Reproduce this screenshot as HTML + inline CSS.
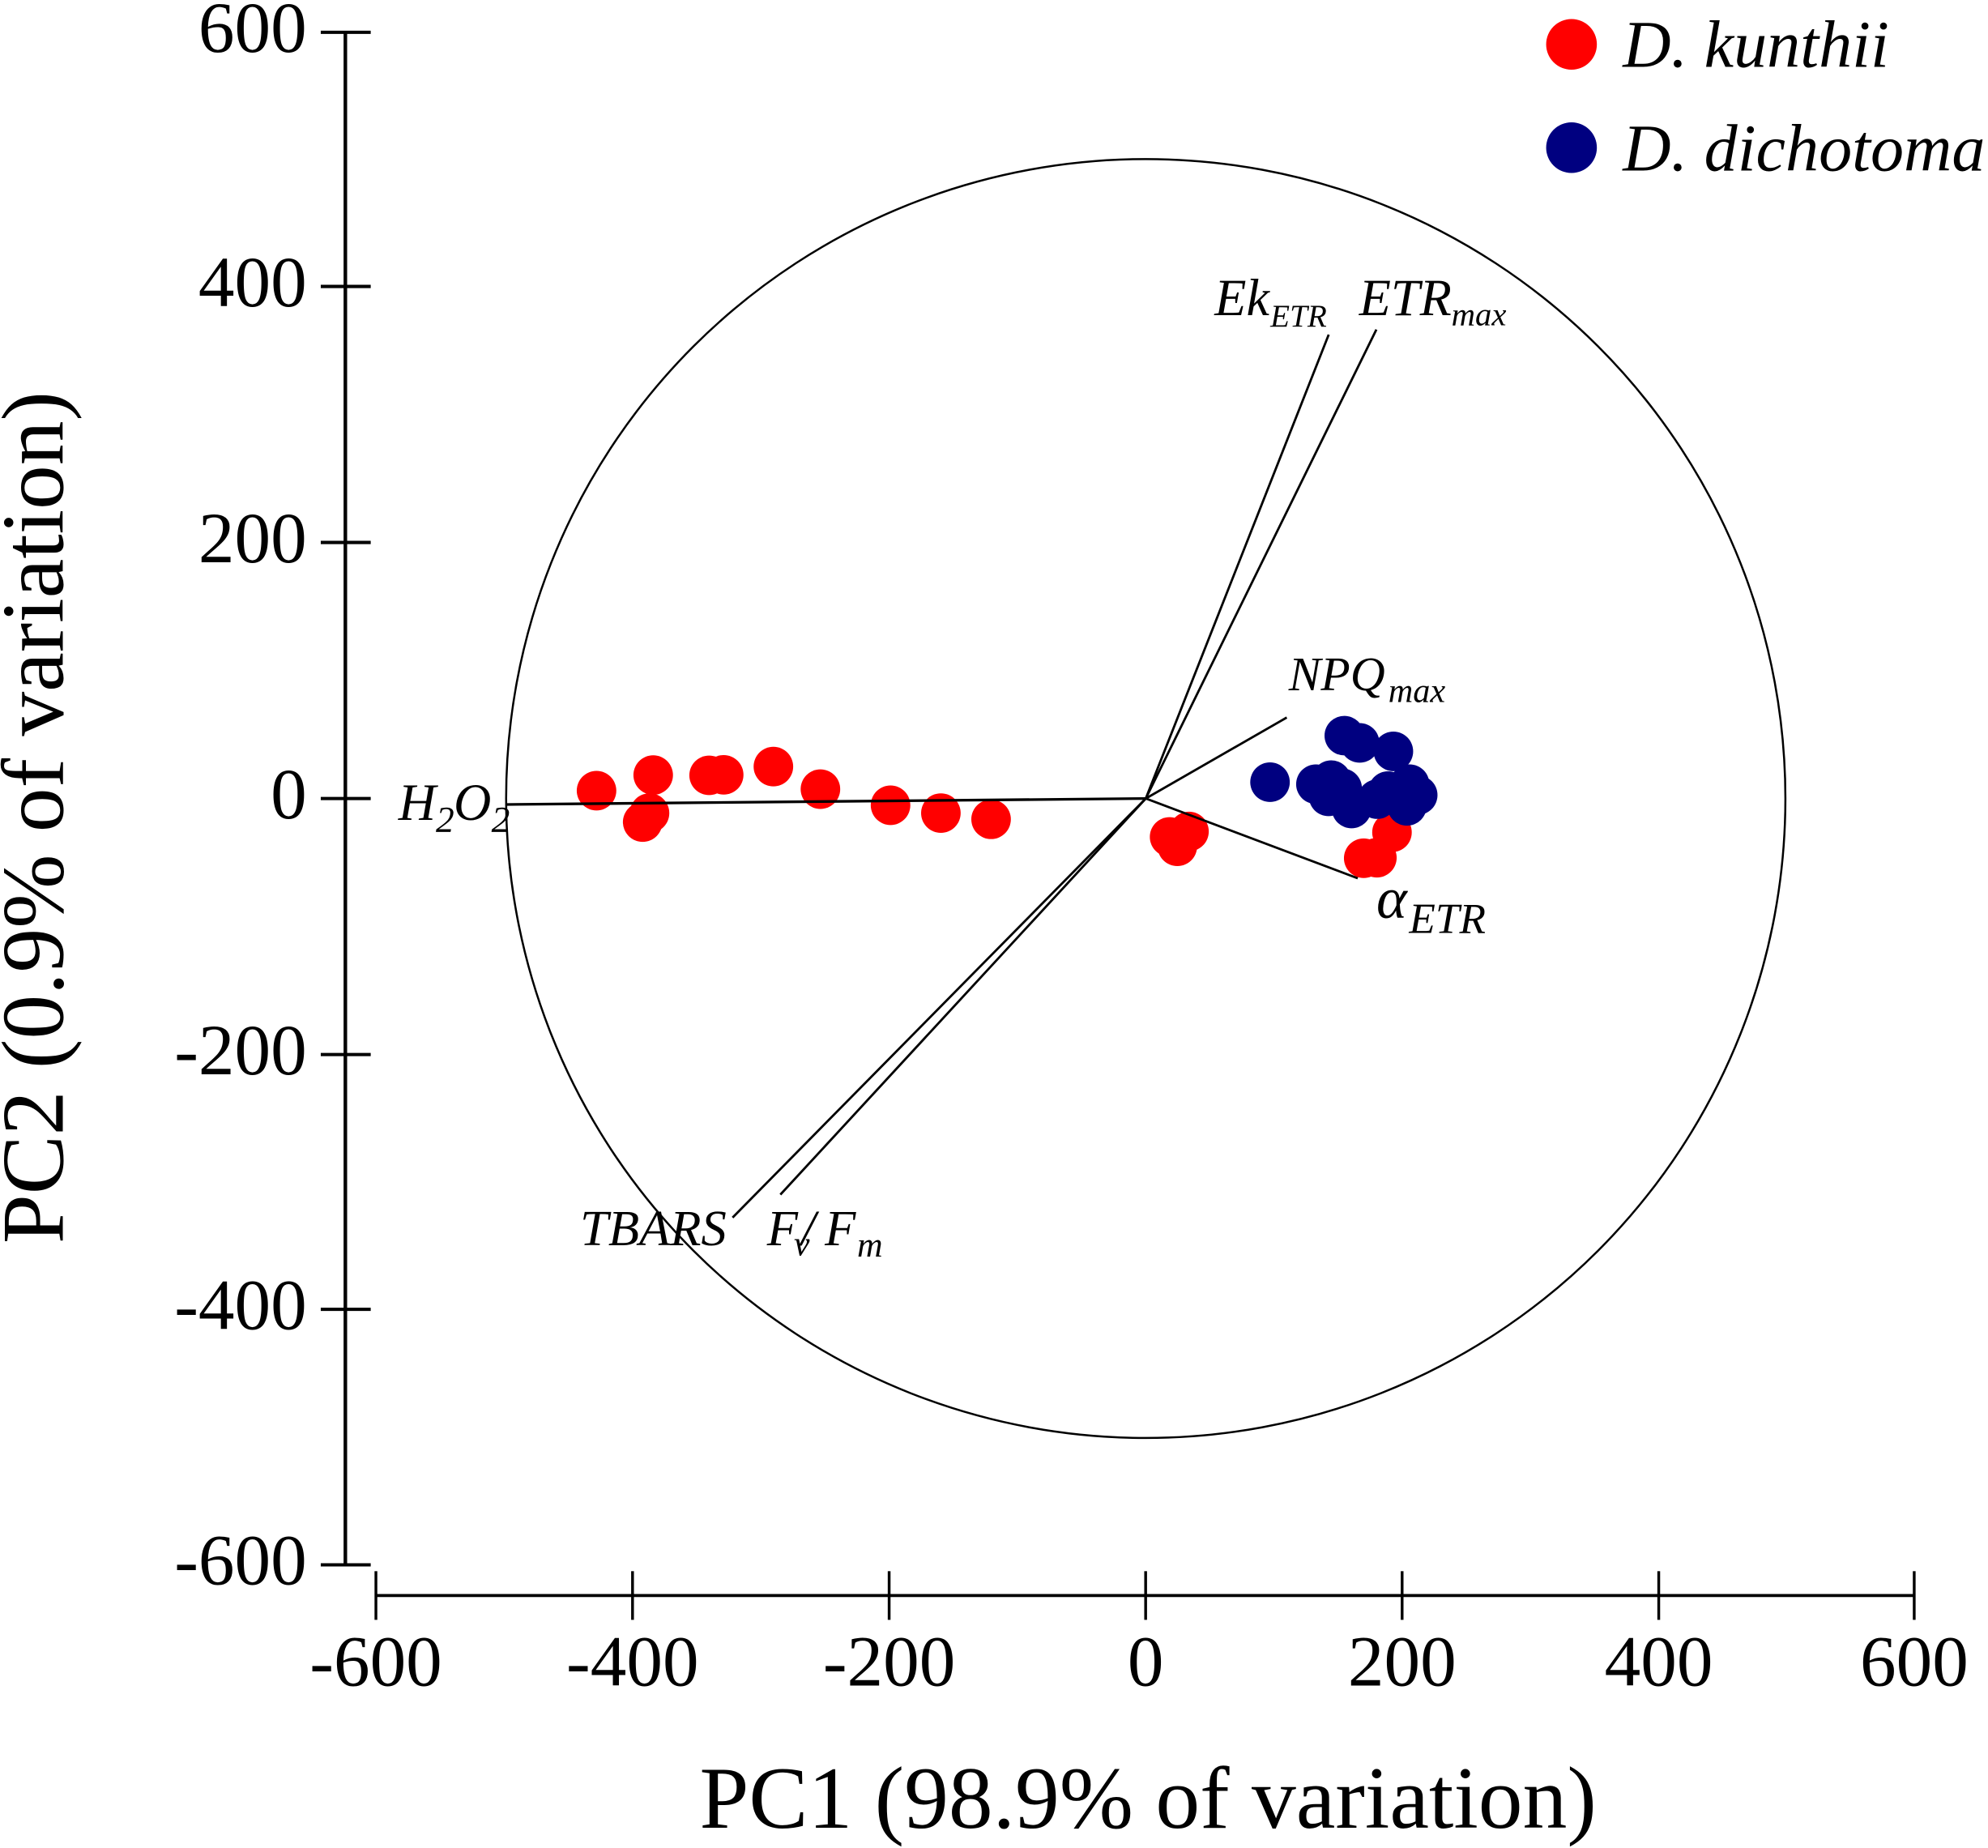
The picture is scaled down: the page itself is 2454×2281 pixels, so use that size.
<!DOCTYPE html>
<html>
<head>
<meta charset="utf-8">
<style>
  html, body { margin: 0; padding: 0; background: #ffffff; }
  svg { display: block; }
  text { font-family: "Liberation Serif", "Times New Roman", serif; fill: #000; }
  .it { font-style: italic; }
</style>
</head>
<body>
<svg xmlns="http://www.w3.org/2000/svg" width="2454" height="2281" viewBox="0 0 1568 1458" preserveAspectRatio="none">
  <rect x="0" y="0" width="1568" height="1458" fill="#ffffff"/>

  <!-- Y axis -->
  <line x1="272.4" y1="25.5" x2="272.4" y2="1234.6" stroke="#000" stroke-width="2.8"/>
  <g stroke="#000" stroke-width="2.6">
    <line x1="253" y1="25.5" x2="292.4" y2="25.5"/>
    <line x1="253" y1="226" x2="292.4" y2="226"/>
    <line x1="253" y1="428" x2="292.4" y2="428"/>
    <line x1="253" y1="630" x2="292.4" y2="630"/>
    <line x1="253" y1="832" x2="292.4" y2="832"/>
    <line x1="253" y1="1033" x2="292.4" y2="1033"/>
    <line x1="253" y1="1234.6" x2="292.4" y2="1234.6"/>
  </g>
  <g font-size="57" text-anchor="end">
    <text x="242" y="41">600</text>
    <text x="242" y="241.5">400</text>
    <text x="242" y="443.5">200</text>
    <text x="242" y="645.5">0</text>
    <text x="242" y="847.5">-200</text>
    <text x="242" y="1048.5">-400</text>
    <text x="242" y="1250">-600</text>
  </g>

  <!-- X axis -->
  <line x1="296.5" y1="1258.8" x2="1509.8" y2="1258.8" stroke="#000" stroke-width="2.4"/>
  <g stroke="#000" stroke-width="2.2">
    <line x1="296.5" y1="1239.6" x2="296.5" y2="1278"/>
    <line x1="498.9" y1="1239.6" x2="498.9" y2="1278"/>
    <line x1="701.3" y1="1239.6" x2="701.3" y2="1278"/>
    <line x1="903.6" y1="1239.6" x2="903.6" y2="1278"/>
    <line x1="1105.9" y1="1239.6" x2="1105.9" y2="1278"/>
    <line x1="1308.3" y1="1239.6" x2="1308.3" y2="1278"/>
    <line x1="1509.8" y1="1239.6" x2="1509.8" y2="1278"/>
  </g>
  <g font-size="57" text-anchor="middle">
    <text x="296.5" y="1330">-600</text>
    <text x="498.9" y="1330">-400</text>
    <text x="701.3" y="1330">-200</text>
    <text x="903.6" y="1330">0</text>
    <text x="1105.9" y="1330">200</text>
    <text x="1308.3" y="1330">400</text>
    <text x="1509.8" y="1330">600</text>
  </g>

  <!-- Axis titles -->
  <text x="905.5" y="1442" font-size="70" text-anchor="middle">PC1 (98.9% of variation)</text>
  <text transform="translate(49.5,645) rotate(-90)" font-size="70" text-anchor="middle">PC2 (0.9% of variation)</text>

  <!-- Circle -->
  <circle cx="903.7" cy="630" r="504.5" fill="none" stroke="#000" stroke-width="1.6"/>

  <!-- Red points (D. kunthii) -->
  <g fill="#ff0000">
    <circle cx="470.5" cy="623.8" r="15.6"/>
    <circle cx="515.2" cy="611.5" r="15.6"/>
    <circle cx="506.9" cy="648.6" r="15.6"/>
    <circle cx="512.3" cy="641.5" r="15.6"/>
    <circle cx="559.3" cy="611.7" r="15.6"/>
    <circle cx="570.8" cy="611.3" r="15.6"/>
    <circle cx="610" cy="604.8" r="15.6"/>
    <circle cx="647.1" cy="622.6" r="15.6"/>
    <circle cx="702.4" cy="635.3" r="15.6"/>
    <circle cx="742.1" cy="641.5" r="15.6"/>
    <circle cx="781.7" cy="646.4" r="15.6"/>
    <circle cx="922.5" cy="660.3" r="15.6"/>
    <circle cx="937.8" cy="656" r="15.6"/>
    <circle cx="928.6" cy="667.7" r="15.6"/>
    <circle cx="1097.9" cy="656.7" r="15.6"/>
    <circle cx="1075.6" cy="677.1" r="15.6"/>
    <circle cx="1086" cy="676.7" r="15.6"/>
  </g>

  <!-- Blue points (D. dichotoma) -->
  <g fill="#000080">
    <circle cx="1001.7" cy="617.1" r="15.6"/>
    <circle cx="1060.3" cy="580.4" r="15.6"/>
    <circle cx="1072.4" cy="586.1" r="15.6"/>
    <circle cx="1099" cy="592.8" r="15.6"/>
    <circle cx="1037.9" cy="618.7" r="15.6"/>
    <circle cx="1050" cy="615.5" r="15.6"/>
    <circle cx="1058.6" cy="621.9" r="15.6"/>
    <circle cx="1047.9" cy="628.3" r="15.6"/>
    <circle cx="1066" cy="637.9" r="15.6"/>
    <circle cx="1086.3" cy="630.5" r="15.6"/>
    <circle cx="1094.8" cy="624.1" r="15.6"/>
    <circle cx="1111.8" cy="618.7" r="15.6"/>
    <circle cx="1118.2" cy="627.3" r="15.6"/>
    <circle cx="1109.7" cy="635.8" r="15.6"/>
  </g>

  <!-- Loading vectors -->
  <g stroke="#000" stroke-width="1.8" fill="none">
    <line x1="903.7" y1="630" x2="399.4" y2="634.7" stroke-width="2.1"/>
    <line x1="903.7" y1="630" x2="1048" y2="264"/>
    <line x1="903.7" y1="630" x2="1085.6" y2="260"/>
    <line x1="903.7" y1="630" x2="1014.9" y2="566.1"/>
    <line x1="903.7" y1="630" x2="1070.9" y2="692.9"/>
    <line x1="903.7" y1="630" x2="577.8" y2="960.6"/>
    <line x1="903.7" y1="630" x2="615.5" y2="942.5"/>
  </g>

  <!-- Vector labels -->
  <g class="it">
    <text x="958" y="248.8" font-size="41">Ek</text>
    <text x="1002" y="257.7" font-size="25">ETR</text>

    <text x="1072" y="248.8" font-size="41">ETR</text>
    <text x="1144.8" y="256.7" font-size="26">max</text>

    <text x="1016.4" y="544.6" font-size="38">NPQ</text>
    <text x="1095" y="553.8" font-size="27">max</text>

    <text x="1085.6" y="724.2" font-size="46">α</text>
    <text x="1111.4" y="735.9" font-size="34">ETR</text>

    <text x="314.2" y="647" font-size="41">H</text>
    <text x="343.8" y="656.4" font-size="29">2</text>
    <text x="357.8" y="647" font-size="41">O</text>
    <text x="387.6" y="656.4" font-size="29">2</text>

    <text x="457.5" y="982.3" font-size="40">TBARS</text>

    <text x="604.9" y="982.3" font-size="40">F</text>
    <text x="626.2" y="990.4" font-size="28">v</text>
    <text x="632" y="982.3" font-size="40">/</text>
    <text x="650.5" y="982.3" font-size="40">F</text>
    <text x="676" y="991.5" font-size="28">m</text>
  </g>

  <!-- Legend -->
  <circle cx="1239.5" cy="35" r="20" fill="#ff0000"/>
  <text class="it" x="1280" y="52.8" font-size="52.5">D. kunthii</text>
  <circle cx="1239.5" cy="116.5" r="20" fill="#000080"/>
  <text class="it" x="1280" y="134.6" font-size="52.5">D. dichotoma</text>
</svg>
</body>
</html>
